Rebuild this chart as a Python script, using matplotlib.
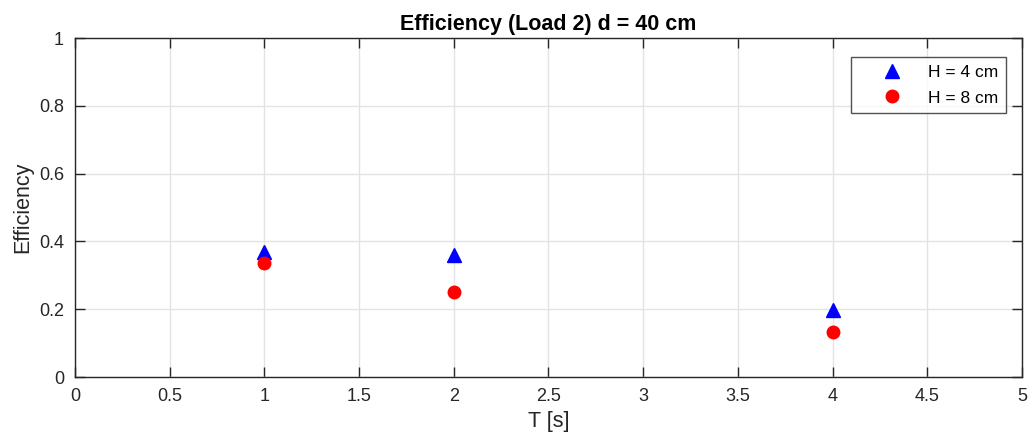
import matplotlib.pyplot as plt

plt.rcParams['font.family'] = ['Liberation Sans', 'DejaVu Sans']

# Measured efficiency for load 2, d = 40 cm
period = [1, 2, 4]
eff_h4 = [0.369, 0.360, 0.198]
eff_h8 = [0.335, 0.250, 0.132]

xticks = [0, 0.5, 1, 1.5, 2, 2.5, 3, 3.5, 4, 4.5, 5]
yticks = [0, 0.2, 0.4, 0.6, 0.8, 1]

figure = plt.figure(figsize=(10.33, 4.41), dpi=100)
ax = figure.add_axes([0.0726, 0.1451, 0.9167, 0.7687])

ax.plot(period, eff_h4, linestyle='none', marker='^', ms=10, color='#0000ff',
        label='H = 4 cm')
ax.plot(period, eff_h8, linestyle='none', marker='o', ms=9, color='#ff0000',
        label='H = 8 cm')

ax.set_xlim(0, 5)
ax.set_ylim(0, 1)
ax.set_xticks(xticks)
ax.set_xticklabels([f'{t:g}' for t in xticks])
ax.set_yticks(yticks)
ax.set_yticklabels([f'{t:g}' for t in yticks])
ax.tick_params(direction='in', length=7.5, width=1, labelsize=13,
               colors='#262626', top=True, right=True, pad=8)
for spine in ax.spines.values():
    spine.set_color('#262626')
    spine.set_linewidth(1)
ax.grid(True, color='#e3e3e3', linewidth=1)
ax.set_axisbelow(True)

ax.set_xlabel('T [s]', fontsize=15.5, color='#262626', labelpad=4)
ax.set_ylabel('Efficiency', fontsize=15.5, color='#262626', labelpad=4)
ax.set_title('Efficiency (Load 2) d = 40 cm', fontsize=15.5, fontweight='bold',
             color='#000000', pad=6)

leg = ax.legend(loc='upper right', bbox_to_anchor=(0.983, 0.944), fontsize=12.5,
                frameon=True, fancybox=False, edgecolor='#262626',
                borderpad=0.45, handletextpad=0.1, labelspacing=0.6,
                borderaxespad=0, handlelength=3.9)
leg.get_frame().set_linewidth(1)

figure.savefig('out.png', dpi=100)
